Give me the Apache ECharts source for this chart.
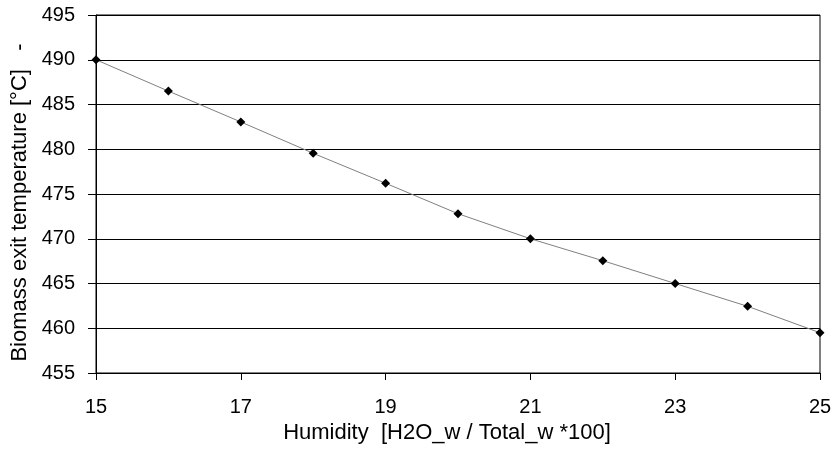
<!DOCTYPE html>
<html>
<head>
<meta charset="utf-8">
<script src="https://cdn.jsdelivr.net/npm/echarts@6/dist/echarts.min.js"></script>
<style>
html,body{margin:0;padding:0;background:#fff;}
#c{width:835px;height:449px;}
</style>
</head>
<body>
<div id="c"></div>
<script>
const humidity = ['15','16','17','18','19','20','21','22','23','24','25'];
const exitTemp = [490, 486.5, 483.05, 479.55, 476.2, 472.8, 470, 467.55, 465, 462.45, 459.5];
const xAxisTitle = 'Humidity  [H2O_w / Total_w *100]';
const yAxisTitle = 'Biomass exit temperature [°C]   -';

const chart = echarts.init(document.getElementById('c'), null, {renderer: 'canvas'});
const font = 'Liberation Sans, Arial, sans-serif';
chart.setOption({
  animation: false,
  backgroundColor: '#fff',
  grid: {left: 96, right: 15, top: 15, bottom: 76, show: true, borderColor: '#000', borderWidth: 1, containLabel: false},
  xAxis: {
    type: 'category',
    data: humidity,
    boundaryGap: false,
    name: xAxisTitle,
    nameLocation: 'middle',
    nameGap: 46,
    nameTextStyle: {fontFamily: font, fontSize: 22, color: '#000', padding: [0, 22, 0, 0]},
    axisLine: {lineStyle: {color: '#000', width: 1}},
    axisTick: {show: true, interval: 1, length: 7, lineStyle: {color: '#000'}},
    axisLabel: {interval: 1, margin: 24, fontFamily: font, fontSize: 20, color: '#000'},
    splitLine: {show: false}
  },
  yAxis: {
    type: 'value',
    min: 455, max: 495, interval: 5,
    name: yAxisTitle,
    nameLocation: 'middle',
    nameGap: 60,
    nameTextStyle: {fontFamily: font, fontSize: 22, color: '#000', padding: [0, 17, 0, 0]},
    axisLine: {show: true, lineStyle: {color: '#000', width: 1}},
    axisTick: {show: true, length: 8, lineStyle: {color: '#000'}},
    axisLabel: {margin: 21, fontFamily: font, fontSize: 20, color: '#000'},
    splitLine: {show: true, lineStyle: {color: '#000', width: 1}}
  },
  series: [{
    type: 'line',
    data: exitTemp,
    symbol: 'diamond',
    symbolSize: 9,
    itemStyle: {color: '#000'},
    lineStyle: {color: '#808080', width: 1},
    z: 5
  }]
});
</script>
</body>
</html>
